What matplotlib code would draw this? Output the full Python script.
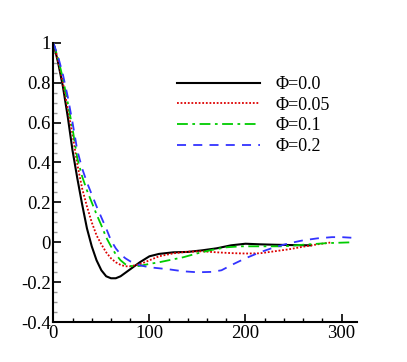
import numpy as np
import matplotlib
matplotlib.use("Agg")
import matplotlib.pyplot as plt
from matplotlib.ticker import MultipleLocator, FuncFormatter

# values
x_00 = [0, 5, 10, 15, 20, 25, 30, 35, 40, 45, 50, 55, 60, 65, 70, 80, 90, 100,
        110, 125, 140, 155, 170, 185, 200, 215, 230, 250, 268]
y_00 = [1.0, 0.9, 0.78, 0.63, 0.46, 0.32, 0.19, 0.07, -0.02, -0.09, -0.14, -0.17,
        -0.18, -0.18, -0.17, -0.135, -0.1, -0.07, -0.058, -0.05, -0.048, -0.04,
        -0.03, -0.015, -0.007, -0.01, -0.012, -0.014, -0.015]

x_05 = [0, 5, 10, 15, 20, 25, 30, 35, 40, 45, 50, 55, 60, 65, 70, 75, 80, 90,
        100, 110, 125, 140, 155, 170, 185, 200, 215, 230, 245, 260, 275, 290]
y_05 = [1.0, 0.91, 0.8, 0.67, 0.54, 0.39, 0.27, 0.18, 0.1, 0.035, -0.01, -0.05,
        -0.08, -0.1, -0.113, -0.12, -0.12, -0.11, -0.09, -0.07, -0.055, -0.047,
        -0.045, -0.05, -0.054, -0.056, -0.055, -0.045, -0.035, -0.022, -0.01, 0.0]

x_10 = [0, 5, 10, 15, 20, 25, 30, 35, 40, 45, 50, 55, 60, 65, 70, 75, 80, 85,
        90, 100, 110, 120, 135, 150, 165, 180, 195, 215, 240, 260, 285, 310]
y_10 = [1.0, 0.92, 0.82, 0.7, 0.57, 0.42, 0.33, 0.26, 0.2, 0.14, 0.085, 0.025,
        -0.02, -0.06, -0.09, -0.11, -0.118, -0.12, -0.118, -0.108, -0.1, -0.09,
        -0.075, -0.055, -0.038, -0.025, -0.02, -0.02, -0.02, -0.012, -0.004, 0.0]

x_20 = [0, 5, 10, 15, 20, 25, 30, 35, 40, 45, 50, 55, 60, 65, 70, 75, 80, 90,
        100, 110, 120, 135, 150, 165, 175, 187, 200, 215, 230, 245, 260, 275,
        290, 300, 314]
y_20 = [1.0, 0.93, 0.84, 0.73, 0.6, 0.46, 0.37, 0.3, 0.24, 0.18, 0.125, 0.07,
        0.01, -0.03, -0.06, -0.08, -0.095, -0.115, -0.125, -0.13, -0.135, -0.145,
        -0.15, -0.148, -0.14, -0.11, -0.08, -0.05, -0.025, -0.005, 0.01, 0.02,
        0.026, 0.026, 0.022]

labels = ["Φ=0.0", "Φ=0.05", "Φ=0.1", "Φ=0.2"]

plt.rcParams['font.family'] = ['Liberation Serif', 'DejaVu Serif']
plt.rcParams['font.size'] = 13

fig = plt.figure(figsize=(4.07, 3.62), dpi=100)
ax = fig.add_axes([0.131, 0.110, 0.746, 0.772])

ax.plot(x_00, y_00, color='black', lw=1.5, ls='-', label=labels[0])
ax.plot(x_05, y_05, color='#dd0000', lw=1.3, ls=(0, (1, 1)), label=labels[1])
ax.plot(x_10, y_10, color='#00cc00', lw=1.3, ls=(0, (6, 2.5, 1.5, 2.5)), label=labels[2])
ax.plot(x_20, y_20, color='#3333ff', lw=1.3, ls=(0, (5, 4)), label=labels[3])

ax.set_xlim(0, 316)
ax.set_ylim(-0.4, 1.0)
ax.spines['top'].set_visible(False)
ax.spines['right'].set_visible(False)
ax.spines['left'].set_linewidth(1.5)
ax.spines['bottom'].set_linewidth(1.5)

ax.xaxis.set_major_locator(MultipleLocator(100))
ax.xaxis.set_minor_locator(MultipleLocator(20))
ax.yaxis.set_major_locator(MultipleLocator(0.2))
ax.yaxis.set_minor_locator(MultipleLocator(0.05))
ax.yaxis.set_major_formatter(FuncFormatter(lambda v, p: "%g" % round(v, 2)))
ax.xaxis.set_major_formatter(FuncFormatter(lambda v, p: "%g" % v))
ax.tick_params(which='major', direction='in', length=6, width=1.2, labelsize=13.5, pad=2)
ax.tick_params(which='minor', direction='in', length=3, width=1.0)
ax.tick_params(axis='y', which='minor', color='#999999')

fig.legend(loc='upper left', bbox_to_anchor=(0.413, 0.815), frameon=False,
           handlelength=4.6, handletextpad=0.85, labelspacing=0.2,
           borderpad=0, fontsize=13)

fig.savefig("out.png", dpi=100)
